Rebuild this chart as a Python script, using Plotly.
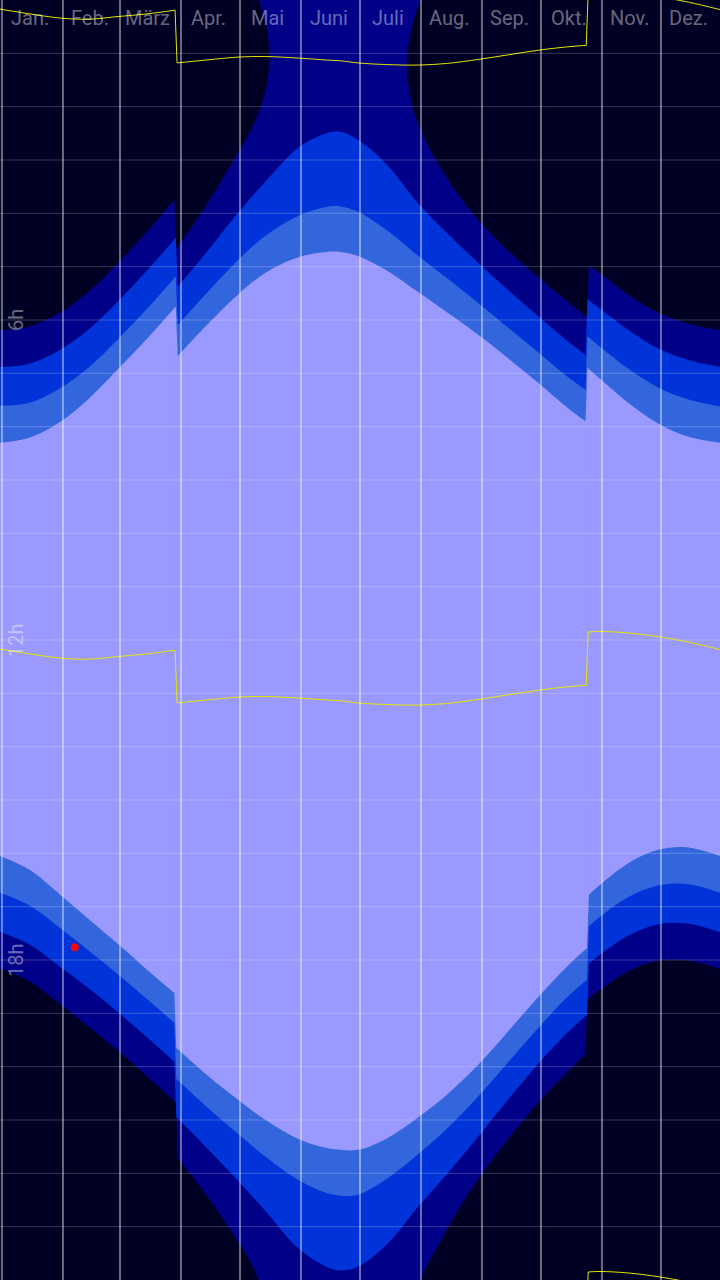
import plotly.graph_objects as go

# ---------------- data (x = day of the (leap) year, y = clock hour) ----------------
MONTHS = ["Jan.", "Feb.", "März", "Apr.", "Mai", "Juni", "Juli", "Aug.", "Sep.", "Okt.", "Nov.", "Dez."]
MONTH_START_DAYS = [1, 32, 61, 92, 122, 153, 183, 214, 245, 275, 306, 336]
MONTH_LABEL_DAYS = [15, 46, 75, 106, 136, 167, 197, 228, 259, 289, 320, 350]
HOUR_LABELS = ["6h", "12h", "18h"]
HOUR_LABEL_VALUES = [6, 12, 18]
GRID_HOURS = list(range(1, 24))
DST_SWITCH_DAYS = [90, 299]   # first day of summer time / first day of winter time

DAYS = [0, 15, 31, 45, 60, 75, 89,
        90, 105, 121, 135, 152, 166, 173, 182, 196, 213, 227, 244, 258, 274, 288, 298,
        299, 305, 320, 335, 350, 366]

SUNRISE = [8.30, 8.21, 7.90, 7.48, 6.92, 6.34, 5.76,
           6.69, 6.10, 5.52, 5.115, 4.82, 4.725, 4.725, 4.80, 5.06, 5.49, 5.85, 6.30, 6.71, 7.19, 7.63, 7.91,
           6.91, 7.10, 7.57, 7.95, 8.19, 8.30]
SUNSET = [16.05, 16.31, 16.79, 17.23, 17.70, 18.19, 18.63,
          19.66, 20.15, 20.62, 21.00, 21.36, 21.525, 21.56, 21.56, 21.36, 20.94, 20.53, 19.93, 19.35, 18.68, 18.13, 17.79,
          16.79, 16.59, 16.17, 15.93, 15.89, 16.05]
CIVIL_DAWN = [7.61, 7.55, 7.27, 6.89, 6.36, 5.78, 5.20,
              6.11, 5.50, 4.875, 4.42, 4.04, 3.88, 3.87, 3.97, 4.30, 4.81, 5.21, 5.71, 6.135, 6.62, 7.05, 7.32,
              6.32, 6.50, 6.93, 7.275, 7.49, 7.62]
CIVIL_DUSK = [16.74, 16.98, 17.415, 17.82, 18.27, 18.74, 19.19,
              20.24, 20.75, 21.26, 21.69, 22.13, 22.37, 22.42, 22.40, 22.12, 21.63, 21.17, 20.52, 19.93, 19.26, 18.71, 18.38,
              17.38, 17.19, 16.81, 16.60, 16.58, 16.74]
NAUTICAL_DAWN = [6.88, 6.82, 6.55, 6.18, 5.65, 5.06, 4.47,
                 5.39, 4.73, 3.99, 3.40, 2.76, 2.50, 2.47, 2.62, 3.06, 3.83, 4.36, 4.96, 5.43, 5.94, 6.38, 6.66,
                 5.62, 5.79, 6.20, 6.54, 6.75, 6.88]
NAUTICAL_DUSK = [17.47, 17.71, 18.14, 18.53, 18.98, 19.46, 19.92,
                 20.96, 21.52, 22.14, 22.71, 23.42, 23.75, 23.82, 23.75, 23.36, 22.61, 22.02, 21.27, 20.63, 19.93, 19.38, 19.04,
                 18.08, 17.90, 17.53, 17.33, 17.32, 17.48]
SOLAR_NOON = [12.17, 12.26, 12.34, 12.36, 12.31, 12.26, 12.19,
              13.18, 13.125, 13.07, 13.06, 13.09, 13.125, 13.14, 13.18, 13.21, 13.22, 13.19, 13.11, 13.03, 12.94, 12.88, 12.85,
              11.85, 11.84, 11.87, 11.94, 12.04, 12.18]

# astronomical night exists only in these two day ranges (dusk may pass midnight: > 24)
ASTRO_DAYS_1 = [0, 15, 31, 45, 60, 75, 89, 90, 105, 122, 126, 129, 132, 134.9, 136.4, 136.9]
ASTRO_DAWN_1 = [6.19, 6.12, 5.85, 5.47, 4.93, 4.33, 3.73, 4.65, 3.84, 2.80, 2.55, 2.33, 2.06, 1.71, 1.39, 1.07]
ASTRO_DUSK_1 = [18.16, 18.40, 18.84, 19.25, 19.70, 20.19, 20.66, 21.70, 22.41, 23.33, 23.58, 23.79, 24.05, 24.41, 24.72, 25.07]
ASTRO_DAYS_2 = [206.8, 207.1, 207.8, 209.8, 212.8, 216, 223.7, 232, 244, 258, 274, 288, 298,
                299, 305, 320, 335, 350, 366]
ASTRO_DAWN_2 = [1.22, 1.44, 1.65, 2.01, 2.34, 2.62, 3.13, 3.60, 4.16, 4.69, 5.21, 5.64, 5.94,
                4.97, 5.13, 5.54, 5.87, 6.07, 6.19]
ASTRO_DUSK_2 = [25.22, 25.00, 24.80, 24.44, 24.10, 23.81, 23.29, 22.74, 22.06, 21.375, 20.66, 20.12, 19.755,
                18.73, 18.56, 18.20, 18.01, 18.01, 18.17]

NOW_DAY = [37.97]
NOW_HOUR = [17.76]

# ---------------- styling ----------------
C_NIGHT = "#000024"
C_ASTRO = "#000088"
C_NAUT = "#0033d8"
C_CIVIL = "#3366dd"
C_DAY = "#9999ff"
C_NOON = "rgb(230,230,0)"
LABEL_COLOR = "rgba(255,255,255,0.42)"
FONT = "Roboto"

fig = go.Figure()


def seg_bounds(days):
    """split indices at the daylight-saving switches"""
    cuts = [i for i in range(1, len(days))
            if any(days[i - 1] < s <= days[i] for s in DST_SWITCH_DAYS)]
    idx = [0] + cuts + [len(days)]
    return [(idx[k], idx[k + 1]) for k in range(len(idx) - 1)], cuts


def add_fill(days, lo, hi, color):
    segs, cuts = seg_bounds(days)
    for a, b in segs:
        fig.add_trace(go.Scatter(x=days[a:b], y=lo[a:b], mode="lines",
                                 line=dict(width=0, shape="spline"),
                                 hoverinfo="skip", showlegend=False))
        fig.add_trace(go.Scatter(x=days[a:b], y=hi[a:b], mode="lines", fill="tonexty",
                                 fillcolor=color, line=dict(width=0, shape="spline"),
                                 hoverinfo="skip", showlegend=False))
    for i in cuts:  # the clock jump itself (stroked to hide seams)
        fig.add_trace(go.Scatter(x=[days[i - 1], days[i], days[i], days[i - 1], days[i - 1]],
                                 y=[lo[i - 1], lo[i], hi[i], hi[i - 1], lo[i - 1]],
                                 mode="lines", fill="toself", fillcolor=color,
                                 line=dict(width=1.5, color=color), hoverinfo="skip", showlegend=False))


def add_curve(days, vals, color):
    segs, cuts = seg_bounds(days)
    for a, b in segs:
        fig.add_trace(go.Scatter(x=days[a:b], y=vals[a:b], mode="lines",
                                 line=dict(color=color, width=1, shape="spline"),
                                 hoverinfo="skip", showlegend=False))
    for i in cuts:
        fig.add_trace(go.Scatter(x=[days[i - 1], days[i]], y=[vals[i - 1], vals[i]], mode="lines",
                                 line=dict(color=color, width=1),
                                 hoverinfo="skip", showlegend=False))


# night: from dusk to the next dawn (+24h); drawn for both days and clipped by the axes
for days, dawn, dusk in [(ASTRO_DAYS_1, ASTRO_DAWN_1, ASTRO_DUSK_1),
                         (ASTRO_DAYS_2, ASTRO_DAWN_2, ASTRO_DUSK_2)]:
    for shift in (0, -24):
        add_fill(days, [v + shift for v in dusk], [v + 24 + shift for v in dawn], C_NIGHT)

add_fill(DAYS, NAUTICAL_DAWN, NAUTICAL_DUSK, C_NAUT)
add_fill(DAYS, CIVIL_DAWN, CIVIL_DUSK, C_CIVIL)
add_fill(DAYS, SUNRISE, SUNSET, C_DAY)

# solar noon and solar midnight (noon +/- 12 h)
for shift in (0, -12, 12):
    add_curve(DAYS, [v + shift for v in SOLAR_NOON], C_NOON)

fig.add_trace(go.Scatter(x=NOW_DAY, y=NOW_HOUR, mode="markers",
                         marker=dict(color="red", size=8), hoverinfo="skip", showlegend=False))

shapes = []
for d in MONTH_START_DAYS:
    shapes.append(dict(type="line", xref="x", yref="paper", x0=d, x1=d, y0=0, y1=1,
                       line=dict(color="rgba(255,255,255,0.42)", width=2), layer="above"))
for h in GRID_HOURS:
    shapes.append(dict(type="line", xref="paper", yref="y", x0=0, x1=1, y0=h, y1=h,
                       line=dict(color="rgba(255,255,255,0.22)", width=1), layer="above"))

annotations = []
for name, d in zip(MONTHS, MONTH_LABEL_DAYS):
    annotations.append(dict(x=d, y=0, xref="x", yref="y", text=name, showarrow=False,
                            xanchor="center", yanchor="top", yshift=-4,
                            font=dict(family=FONT, size=20, color=LABEL_COLOR)))
for name, h in zip(HOUR_LABELS, HOUR_LABEL_VALUES):
    annotations.append(dict(x=0, y=h, xref="paper", yref="y", text=name, showarrow=False,
                            xanchor="left", yanchor="middle", xshift=2, textangle=-90,
                            font=dict(family=FONT, size=20, color=LABEL_COLOR)))

fig.update_layout(
    width=720, height=1280,
    margin=dict(l=0, r=0, t=0, b=0),
    paper_bgcolor=C_NIGHT, plot_bgcolor=C_ASTRO,
    xaxis=dict(range=[0, 366], showgrid=False, zeroline=False, showticklabels=False, ticks="",
               fixedrange=True),
    yaxis=dict(range=[24, 0], showgrid=False, zeroline=False, showticklabels=False, ticks="",
               fixedrange=True),
    shapes=shapes, annotations=annotations, showlegend=False,
)

fig.write_html("out.html", config={"displayModeBar": False},
               post_script="document.body.style.margin='0';")
